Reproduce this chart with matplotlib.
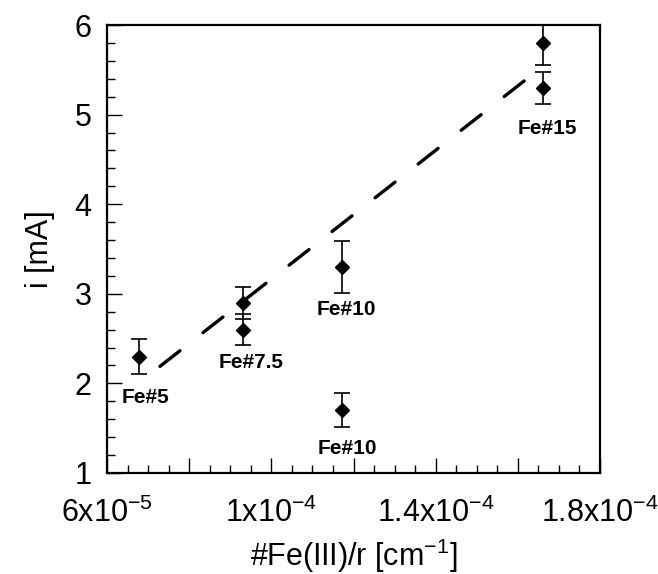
import matplotlib
matplotlib.use("Agg")
import matplotlib.pyplot as plt
from matplotlib.ticker import MultipleLocator, FuncFormatter

plt.rcParams['font.family'] = ['Liberation Sans', 'DejaVu Sans']
plt.rcParams['mathtext.fontset'] = 'custom'
plt.rcParams['mathtext.rm'] = 'Liberation Sans'
plt.rcParams['mathtext.it'] = 'Liberation Sans:italic'
plt.rcParams['mathtext.bf'] = 'Liberation Sans:bold'

# Data
fe_per_r = [6.79e-5, 9.32e-5, 9.32e-5, 1.171e-4, 1.171e-4, 1.6605e-4, 1.6605e-4]
current_mA = [2.3, 2.9, 2.6, 3.3, 1.7, 5.8, 5.3]
current_err = [0.19, 0.18, 0.17, 0.29, 0.19, 0.25, 0.18]

trend_x = [7.29e-5, 1.622e-4]
trend_y = [2.19, 5.40]

label_texts = ["Fe#5", "Fe#7.5", "Fe#10", "Fe#10", "Fe#15"]
label_x = [6.944e-5, 9.50e-5, 1.183e-4, 1.184e-4, 1.671e-4]
label_y = [1.837, 2.228, 2.825, 1.268, 4.847]

x_major_labels = {6e-5: "6x10^{-5}", 1e-4: "1x10^{-4}", 1.4e-4: "1.4x10^{-4}", 1.8e-4: "1.8x10^{-4}"}

fig = plt.figure(figsize=(6.58, 5.74), dpi=100)
ax = fig.add_axes([0.1626, 0.1760, 0.9119 - 0.1626, 0.9564 - 0.1760])

ax.plot(trend_x, trend_y, color='black', lw=2.4, linestyle=(0, (7.6, 8.8)),
        dash_capstyle='round', zorder=2)
ax.errorbar(fe_per_r, current_mA, yerr=current_err, fmt='D', color='black',
            markersize=7, ecolor='black', elinewidth=1.2, capsize=5.5,
            capthick=1.2, zorder=3)

for t, lx, ly in zip(label_texts, label_x, label_y):
    ax.text(lx, ly, t, ha='center', va='center', fontsize=15, fontweight='bold')

ax.set_xlim(6e-5, 1.8e-4)
ax.set_ylim(1, 6)

ax.xaxis.set_major_locator(MultipleLocator(2e-5))
ax.xaxis.set_minor_locator(MultipleLocator(5e-6))
ax.yaxis.set_major_locator(MultipleLocator(1))
ax.yaxis.set_minor_locator(MultipleLocator(0.2))


def xfmt(v, pos):
    for k, s in x_major_labels.items():
        if abs(v - k) < 1e-9:
            return r"$\mathregular{" + s + "}$"
    return ""


ax.xaxis.set_major_formatter(FuncFormatter(xfmt))

ax.tick_params(axis='both', which='both', direction='in', top=False, right=False)
ax.tick_params(axis='both', which='major', length=11, width=1.0, labelsize=22)
ax.tick_params(axis='both', which='minor', length=5.5, width=1.0)
ax.tick_params(axis='x', which='major', pad=18)
ax.tick_params(axis='y', which='major', pad=11)

for s in ax.spines.values():
    s.set_linewidth(1.6)

ax.set_xlabel(r"#Fe(III)/r [cm$\mathregular{^{-1}}$]", fontsize=22, labelpad=5)
ax.set_ylabel("i [mA]", fontsize=22, labelpad=14)

fig.savefig("out.png", dpi=100)
